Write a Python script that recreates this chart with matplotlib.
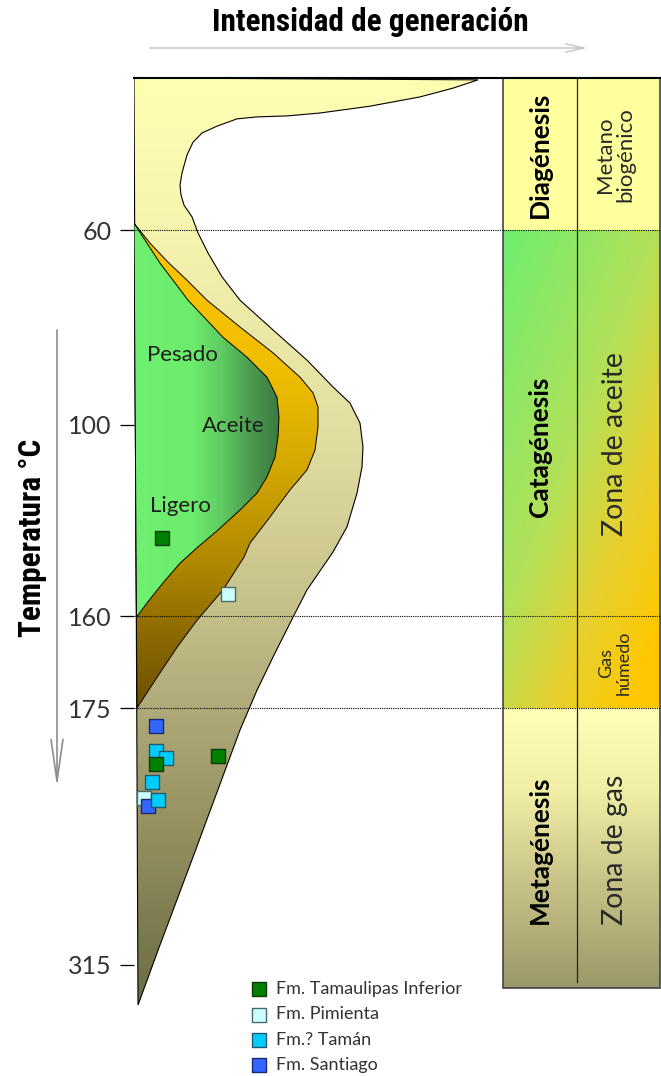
import numpy as np
import matplotlib
matplotlib.use("Agg")
import matplotlib.pyplot as plt
from matplotlib.colors import LinearSegmentedColormap
from matplotlib.patches import Polygon, Rectangle

W, H = 661, 1076

# temperature axis: reference temperatures and where they sit (px from top)
TEMP_TICKS = [60, 100, 160, 175, 315]
TICK_POS = [230, 425, 616, 708, 965]

T_TOP = 28.8
T_TABLE_BOTTOM = 327.5

# outer envelope of generation (intensity, temperature)
ENV_X = [344, 319, 286, 236, 186, 153, 123, 103, 83, 68, 59, 53, 48, 46, 47, 50,
         58, 64, 74, 88, 106, 139, 173, 199, 216, 226, 229, 228, 223, 213, 199,
         173, 159, 139, 123, 106, 59, 26, 4]
ENV_T = [29.2, 30.9, 32.7, 34.6, 36.0, 36.6, 36.8, 37.2, 38.7, 40.1, 42.0, 44.6,
         48.3, 50.8, 52.8, 54.9, 57.3, 60.6, 64.7, 69.6, 74.4, 80.5, 86.7, 92.2,
         95.5, 99.6, 106.9, 113.2, 121.4, 132.0, 139.9, 151.8, 160.2, 166.7,
         172.1, 187.0, 256.2, 304.1, 336.8]

# oil window band
OIL_X = [0, 16, 34, 53, 73, 106, 139, 166, 179, 184, 184, 181, 173, 156, 136,
         116, 110, 89, 63, 43, 23, 3]
OIL_T = [58.6, 62.7, 66.6, 70.3, 74.4, 79.9, 85.2, 90.2, 93.4, 96.3, 100.6,
         107.9, 114.1, 120.4, 128.9, 137.1, 141.5, 151.8, 160.7, 165.1, 170.0, 175]

# heavy -> light oil region
LIQ_X = [0, 26, 39, 54, 89, 113, 133, 143, 145, 144, 141, 133, 123, 106, 84, 64,
         46, 29, 13, 2.5]
LIQ_T = [58.6, 66.8, 70.3, 74.4, 82.0, 86.1, 90.2, 94.3, 98.4, 103.8, 110.1,
         116.3, 121.4, 126.7, 133.0, 138.3, 143.4, 149.6, 155.9, 160.2]

# samples (intensity, temperature)
TAMAULIPAS_X = [28, 84, 22]
TAMAULIPAS_T = [135.5, 201, 205.5]
PIMIENTA_X = [94, 10]
PIMIENTA_T = [153, 224]
TAMAN_X = [22, 32, 18, 24]
TAMAN_T = [198.4, 202, 215.3, 225]
SANTIAGO_X = [22, 14]
SANTIAGO_T = [184.8, 228.4]

STAGES = ["Diagénesis", "Catagénesis", "Metagénesis"]
STAGE_T = [44.6, 107, 252]
ZONES = ["Metano\nbiogénico", "Zona de aceite", "Gas\nhúmedo", "Zona de gas"]
ZONE_T = [44.6, 106, 167.7, 252]
ZONE_SIZES = [16, 20.5, 13, 20.5]

S_LO = (TICK_POS[1] - TICK_POS[0]) / (TEMP_TICKS[1] - TEMP_TICKS[0])
S_HI = (TICK_POS[-1] - TICK_POS[-2]) / (TEMP_TICKS[-1] - TEMP_TICKS[-2])


def to_pos(t):
    t = np.asarray(t, dtype=float)
    p = np.interp(t, TEMP_TICKS, TICK_POS)
    p = np.where(t < TEMP_TICKS[0], TICK_POS[0] + (t - TEMP_TICKS[0]) * S_LO, p)
    p = np.where(t > TEMP_TICKS[-1], TICK_POS[-1] + (t - TEMP_TICKS[-1]) * S_HI, p)
    return p


def to_temp(p):
    p = np.asarray(p, dtype=float)
    t = np.interp(p, TICK_POS, TEMP_TICKS)
    t = np.where(p < TICK_POS[0], TEMP_TICKS[0] + (p - TICK_POS[0]) / S_LO, t)
    t = np.where(p > TICK_POS[-1], TEMP_TICKS[-1] + (p - TICK_POS[-1]) / S_HI, t)
    return t


def setup_axis(a, xmax):
    a.set_yscale("function", functions=(to_pos, to_temp))
    a.set_xlim(0, xmax)
    a.set_ylim(float(to_temp(H)), float(to_temp(0)))
    a.set_autoscale_on(False)


def gradient(a, u, stops, clip, z):
    cmap = LinearSegmentedColormap.from_list("g", stops)
    im = a.imshow(u, cmap=cmap, vmin=0, vmax=1, extent=(0, 1, 0, 1),
                  transform=a.transAxes, origin="upper", aspect="auto",
                  interpolation="bilinear", zorder=z)
    im.set_clip_path(clip)
    return im


plt.rcParams["font.family"] = ["Lato", "DejaVu Sans"]
NARROW = ["Roboto Condensed", "DejaVu Sans"]
INK = "#1E1E1E"

fig = plt.figure(figsize=(W / 100, H / 100), dpi=100)

# ---- main generation diagram ----
ax = fig.add_axes([134 / W, 0, 369 / W, 1])
setup_axis(ax, 369)
pp = np.arange(H) + 0.5
xx = np.arange(369) + 0.5

env = Polygon(list(zip([0] + ENV_X, [T_TOP] + ENV_T)), closed=True,
              facecolor="none", edgecolor="black", lw=0.8, zorder=2)
ax.add_patch(env)
u = np.clip((pp - 78) / (1005 - 78), 0, 1)[:, None] * np.ones(369)
gradient(ax, u, [(0, "#FFFFB2"), (0.16, "#F6F4AE"), (0.4, "#E0DCA0"),
                 (0.57, "#C6C08A"), (0.68, "#B0AA7A"), (0.83, "#908C5C"),
                 (1, "#6C6C44")], env, 1)

oil = Polygon(list(zip(OIL_X, OIL_T)), closed=True, facecolor="none",
              edgecolor="black", lw=0.7, zorder=4)
ax.add_patch(oil)
u = np.clip((pp - 224) / (708 - 224), 0, 1)[:, None] * np.ones(369)
gradient(ax, u, [(0, "#FFC400"), (0.3, "#F0BE00"), (0.5, "#D4A800"),
                 (0.7, "#B08800"), (0.85, "#8C6A00"), (1, "#6E5000")], oil, 3)

liq = Polygon(list(zip(LIQ_X, LIQ_T)), closed=True, facecolor="none",
              edgecolor="black", lw=0.7, zorder=6)
ax.add_patch(liq)
u = np.ones(H)[:, None] * np.clip(xx / 145, 0, 1)[None, :]
gradient(ax, u, [(0, "#70F070"), (0.4, "#6CEC6C"), (0.6, "#60CC62"),
                 (0.8, "#4C9C50"), (1, "#3A7A40")], liq, 5)

for label, x, t in [("Pesado", 48, 85.6), ("Aceite", 99, 100.3), ("Ligero", 46, 125.4)]:
    ax.text(x, t, label, fontsize=16, color=INK, ha="center", va="center", zorder=8)

ax.plot([0, 369], [T_TOP, T_TOP], color="black", lw=1.5, clip_on=False, zorder=9)
for t in [60, 160, 175]:
    ax.plot([-8, 369], [t, t], color="black", lw=0.8, ls=(0, (1, 1)),
            clip_on=False, zorder=7)

sc_pim = ax.scatter(PIMIENTA_X, PIMIENTA_T, s=110, marker="s", c="#CCFFFF",
                    edgecolors="#4A6A6A", linewidths=1, zorder=10)
sc_stg = ax.scatter(SANTIAGO_X, SANTIAGO_T, s=110, marker="s", c="#3366FF",
                    edgecolors="#1A2A70", linewidths=1, zorder=11)
sc_tmn = ax.scatter(TAMAN_X, TAMAN_T, s=110, marker="s", c="#00CCFF",
                    edgecolors="#1F5A6E", linewidths=1, zorder=12)
sc_tam = ax.scatter(TAMAULIPAS_X, TAMAULIPAS_T, s=110, marker="s", c="#008000",
                    edgecolors="#0A3A0A", linewidths=1, zorder=13)

ax.set_yticks(TEMP_TICKS)
ax.set_yticklabels([str(t) for t in TEMP_TICKS])
ax.tick_params(axis="y", length=10, width=0.9, pad=6, labelsize=18,
               labelcolor="#333333")
ax.tick_params(axis="x", bottom=False, labelbottom=False)
for s in ax.spines.values():
    s.set_visible(False)
ax.set_facecolor("none")

# ---- maturation stages table ----
axt = fig.add_axes([503 / W, 0, 157 / W, 1])
setup_axis(axt, 1)
axt.axis("off")
xt = np.arange(157) + 0.5

axt.add_patch(Rectangle((0, T_TOP), 1, 60 - T_TOP, facecolor="#FFFF9E",
                        edgecolor="none", zorder=1))
cat = Rectangle((0, 60), 1, 115, facecolor="none", edgecolor="none")
axt.add_patch(cat)
u = np.clip(0.5 * (xt / 157)[None, :] + 0.6 * ((pp - 230) / 478)[:, None], 0, 1)
gradient(axt, u, [(0, "#6EEE70"), (0.5, "#B4E058"), (0.75, "#E6D030"),
                  (1, "#FFC800")], cat, 1)
meta = Rectangle((0, 175), 1, T_TABLE_BOTTOM - 175, facecolor="none",
                 edgecolor="none")
axt.add_patch(meta)
u = np.clip((pp - 708) / (988 - 708), 0, 1)[:, None] * np.ones(157)
gradient(axt, u, [(0, "#FFFFB8"), (0.3, "#F0EEA4"), (0.6, "#CAC68A"),
                  (1, "#9A9868")], meta, 1)

axt.add_patch(Rectangle((0, T_TOP), 1, T_TABLE_BOTTOM - T_TOP, facecolor="none",
                        edgecolor="#444444", lw=1.2, clip_on=False, zorder=5))
axt.plot([0, 1], [T_TOP, T_TOP], color="black", lw=1.5, clip_on=False, zorder=6)
axt.plot([0.47, 0.47], [T_TOP, 324], color="#222222", lw=0.9, zorder=5)
for t in [60, 160, 175]:
    axt.plot([0, 1], [t, t], color="black", lw=0.8, ls=(0, (1, 1)),
             clip_on=False, zorder=6)

for name, t in zip(STAGES, STAGE_T):
    axt.text(0.236, t, name, rotation=90, fontsize=19, fontweight="bold",
             color="black", ha="center", va="center", zorder=7)
for name, t, fs in zip(ZONES, ZONE_T, ZONE_SIZES):
    axt.text(0.713, t, name, rotation=90, fontsize=fs, color="#2A2A2A",
             ha="center", va="center", linespacing=1.05,
             multialignment="center", zorder=7)

# ---- titles, arrows and legend ----
fig.text(370 / W, 1 - 22 / H, "Intensidad de generación", family=NARROW,
         fontsize=22.5, fontweight="bold", ha="center", va="center")
fig.text(32 / W, 1 - 538 / H, "Temperatura °C", family=NARROW, fontsize=22.5,
         fontweight="bold", rotation=90, ha="center", va="center")

ax.annotate("", xy=(587, H - 48), xytext=(150, H - 48), xycoords="figure pixels",
            textcoords="figure pixels",
            arrowprops=dict(arrowstyle="->,head_length=1.3,head_width=0.3",
                            color="#C4C4C4", lw=1, shrinkA=0, shrinkB=0,
                            mutation_scale=10))
ax.annotate("", xy=(57, H - 787), xytext=(57, H - 330), xycoords="figure pixels",
            textcoords="figure pixels",
            arrowprops=dict(arrowstyle="->,head_length=3.0,head_width=0.43",
                            color="#8C8C8C", lw=1.2, shrinkA=0, shrinkB=0,
                            mutation_scale=10))

leg = fig.legend(handles=[sc_tam, sc_pim, sc_tmn, sc_stg],
                 labels=["Fm. Tamaulipas Inferior", "Fm. Pimienta", "Fm.? Tamán",
                         "Fm. Santiago"],
                 loc="upper left", bbox_to_anchor=(250 / W, 1 - 981 / H),
                 frameon=False, fontsize=13, handlelength=1.0, handletextpad=0.45,
                 labelspacing=0.52, borderpad=0, borderaxespad=0, scatterpoints=1,
                 labelcolor="#333333")

fig.savefig("out.png", dpi=100)
